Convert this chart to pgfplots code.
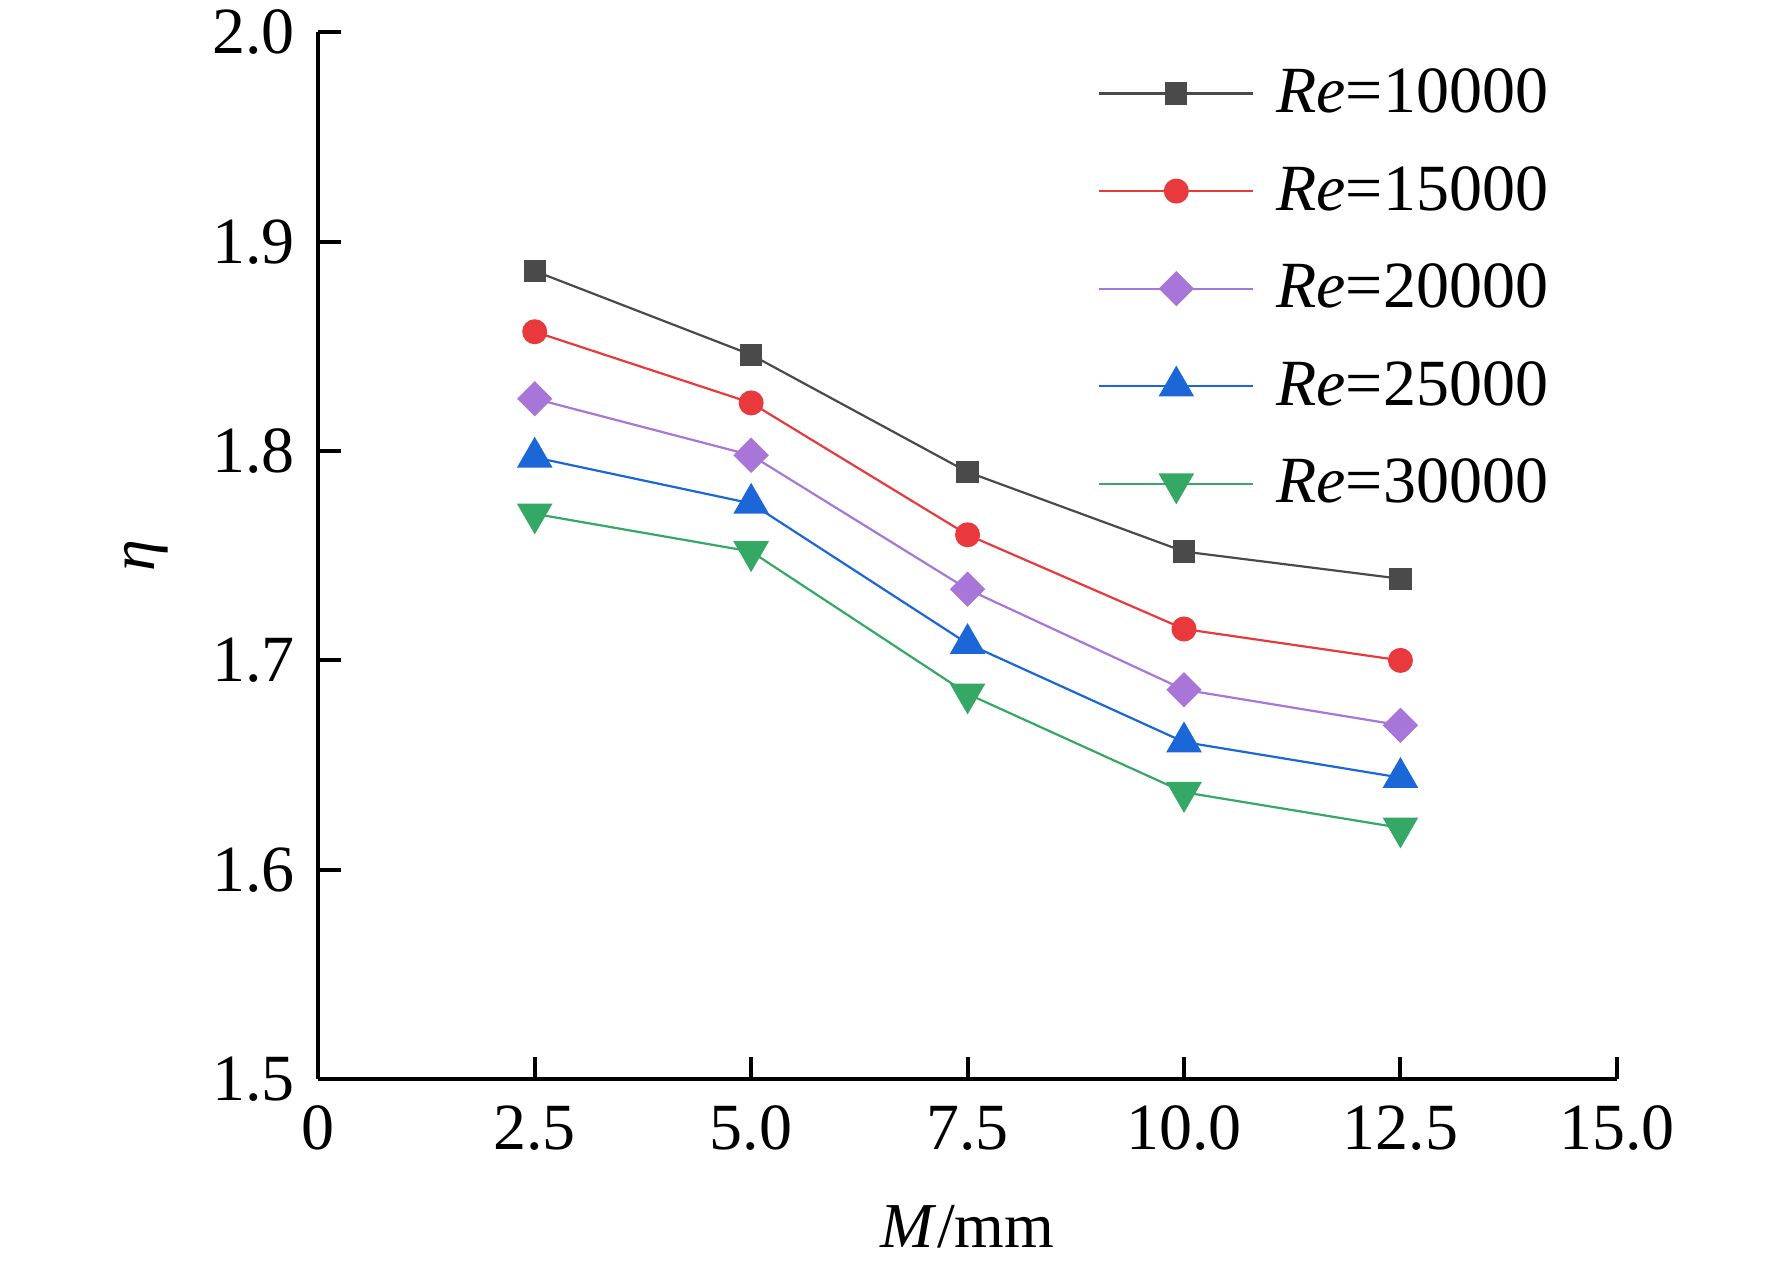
\documentclass[border=0pt]{standalone}
\usepackage{fontspec}
\setmainfont{Liberation Serif}
\usepackage{pgfplots}
\pgfplotsset{compat=1.18}
\usetikzlibrary{calc}
\definecolor{cgray}{HTML}{4A4A4A}
\definecolor{cred}{HTML}{E8393D}
\definecolor{cpurple}{HTML}{A875D9}
\definecolor{cblue}{HTML}{1B67D7}
\definecolor{cgreen}{HTML}{36A866}
\begin{document}
\begin{tikzpicture}
\begin{axis}[
  scale only axis, width=324.75pt, height=261.75pt,
  xmin=0, xmax=15, ymin=1.5, ymax=2.0,
  axis lines=left, axis line style={-, line width=1pt, black},
  xtick={0,2.5,5,7.5,10,12.5,15},
  xticklabels={0,2.5,5.0,7.5,10.0,12.5,15.0},
  ytick={1.5,1.6,1.7,1.8,1.9,2.0},
  yticklabels={1.5,1.6,1.7,1.8,1.9,2.0},
  tick align=inside, major tick length=5.6pt,
  tick style={line width=1pt, black},
  ticklabel style={font=\fontsize{16.5}{19}\selectfont},
  xticklabel style={yshift=-3.2pt},
  yticklabel style={xshift=-2.4pt},
  xlabel={\textit{M}/mm},
  ylabel={\textit{η}},
  xlabel style={font=\fontsize{16}{19}\selectfont, at={(axis description cs:0.5,0)}, anchor=base, yshift=-42pt},
  ylabel style={font=\fontsize{16}{19}\selectfont, at={(axis description cs:-0.1325,0.5)}, anchor=center},
  clip=false,
  legend style={draw=none, fill=none, at={(axis cs:9,1.9945)}, anchor=north west,
    inner sep=0pt, font=\fontsize{16.5}{19}\selectfont, row sep=0pt, column sep=5.5pt,
    nodes={inner sep=0pt, minimum height=24.4pt}},
  legend cell align=left,
  legend image code/.code={\draw[mark repeat=2,mark phase=2] plot coordinates {(0pt,0pt) (19.25pt,0pt) (38.5pt,0pt)};},
]
\addplot[color=cgray, line width=0.55pt, mark=square*, mark size=2.5pt, mark options={solid}]
  coordinates {(2.5,1.886) (5.0,1.846) (7.5,1.790) (10.0,1.752) (12.5,1.739)};
\addlegendentry{\textit{Re}=10000}
\addplot[color=cred, line width=0.55pt, mark=*, mark size=2.85pt, mark options={solid}]
  coordinates {(2.5,1.857) (5.0,1.823) (7.5,1.760) (10.0,1.715) (12.5,1.700)};
\addlegendentry{\textit{Re}=15000}
\addplot[color=cpurple, line width=0.55pt, mark=square*, mark size=2.85pt, mark options={solid, rotate=45}]
  coordinates {(2.5,1.825) (5.0,1.798) (7.5,1.734) (10.0,1.686) (12.5,1.669)};
\addlegendentry{\textit{Re}=20000}
\addplot[color=cblue, line width=0.55pt, mark=triangle*, mark size=4.6pt, mark options={solid}]
  coordinates {(2.5,1.797) (5.0,1.775) (7.5,1.708) (10.0,1.661) (12.5,1.644)};
\addlegendentry{\textit{Re}=25000}
\addplot[color=cgreen, line width=0.55pt, mark=triangle*, mark size=4.6pt, mark options={solid, rotate=180}]
  coordinates {(2.5,1.770) (5.0,1.752) (7.5,1.684) (10.0,1.637) (12.5,1.620)};
\addlegendentry{\textit{Re}=30000}
\coordinate (o) at (rel axis cs:0,0);
\coordinate (t) at (rel axis cs:1,1);
\end{axis}
\pgfresetboundingbox
\path[use as bounding box] ($(o)+(-79.6pt,-46.8pt)$) rectangle ($(t)+(38.8pt,8.1pt)$);
\end{tikzpicture}
\end{document}
